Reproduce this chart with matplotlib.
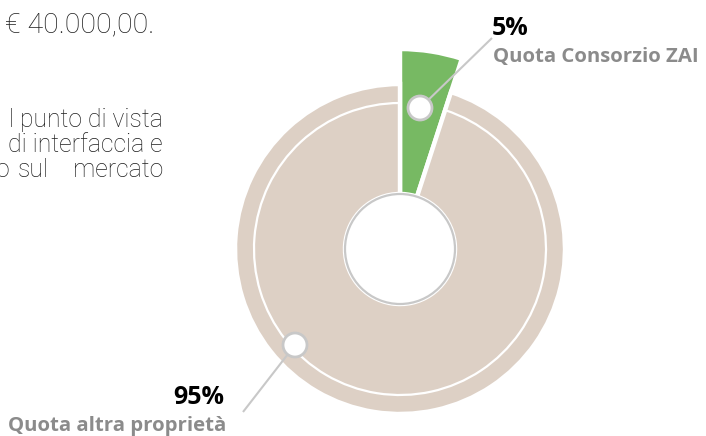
import matplotlib
matplotlib.use("Agg")
import matplotlib.pyplot as plt
from matplotlib.patches import Circle, Arc

# ---- data ----
categories = ["Quota Consorzio ZAI", "Quota altra proprietà"]
shares = [5, 95]
pct_labels = ["5%", "95%"]

# ---- style ----
GREEN = "#77b963"
BEIGE = "#ddd0c5"
RING_GRAY = "#c8c8c8"
LABEL_GRAY = "#8b8b8b"
TEXT_DARK = "#1e1e1e"

W, H = 706, 436
fig = plt.figure(figsize=(W / 100, H / 100), dpi=100)
ax = fig.add_axes([0, 0, 1, 1])

cx, cy = 400, H - 249
outer_r = 165
inner_r = 55

wedges, _ = ax.pie(shares, colors=[GREEN, BEIGE], startangle=90, counterclock=False,
                   center=(cx, cy), radius=outer_r,
                   wedgeprops=dict(width=outer_r - inner_r, edgecolor="white", linewidth=3.2))
# highlighted slice extends further out
wedges[0].set_radius(200)
wedges[0].set_width(200 - inner_r)

ax.set_xlim(0, W)
ax.set_ylim(0, H)
ax.set_aspect("equal")
ax.axis("off")

# white ring over the large slice
green_end = 90 - shares[0] / sum(shares) * 360
ax.add_patch(Arc((cx, cy), 2 * 146, 2 * 146, theta1=90, theta2=green_end,
                 color="white", lw=1.6, zorder=3))

# inner hole
ax.add_patch(Circle((cx, cy), inner_r, fc="white", ec=RING_GRAY, lw=1.6, zorder=4))

# leader lines and markers
markers = [(420, H - 108), (295, H - 345)]
ends = [(492, H - 38), (243, H - 412)]
for (mx, my), (ex, ey) in zip(markers, ends):
    ax.plot([mx, ex], [my, ey], color=RING_GRAY, lw=1.5, zorder=5, solid_capstyle="butt")
    ax.add_patch(Circle((mx, my), 12, fc="white", ec=RING_GRAY, lw=2.0, zorder=6))

lab_font = ["Open Sans", "DejaVu Sans"]
ax.text(492, H - 35, pct_labels[0], fontsize=18, fontweight="bold", family=lab_font,
        color="black", ha="left", va="baseline")
ax.text(493, H - 62, categories[0], fontsize=14.7, fontweight="bold", family=lab_font,
        color=LABEL_GRAY, ha="left", va="baseline")
ax.text(224, H - 404, pct_labels[1], fontsize=18, fontweight="bold", family=lab_font,
        color="black", ha="right", va="baseline")
ax.text(226, H - 431, categories[1], fontsize=14.7, fontweight="bold", family=lab_font,
        color=LABEL_GRAY, ha="right", va="baseline")

# surrounding paragraph text (clipped at the left edge, as in the source page)
body = dict(family=["Roboto", "DejaVu Sans"], fontweight="light",
            color=TEXT_DARK, va="baseline")
ax.text(116, H + 15, "p", ha="left", fontsize=17.8, **body)
ax.text(5, H - 32, "€ 40.000,00.", ha="left", fontsize=20.5, **body)
ax.text(163, H - 127, "l punto di vista", ha="right", fontsize=17.8, **body)
ax.text(163, H - 152, "di interfaccia e", ha="right", fontsize=17.8, **body)
ax.text(-4, H - 177, "o", ha="left", fontsize=17.8, **body)
ax.text(18, H - 177, "sul", ha="left", fontsize=17.8, **body)
ax.text(163, H - 177, "mercato", ha="right", fontsize=17.8, **body)

fig.savefig("out.png", dpi=100)
